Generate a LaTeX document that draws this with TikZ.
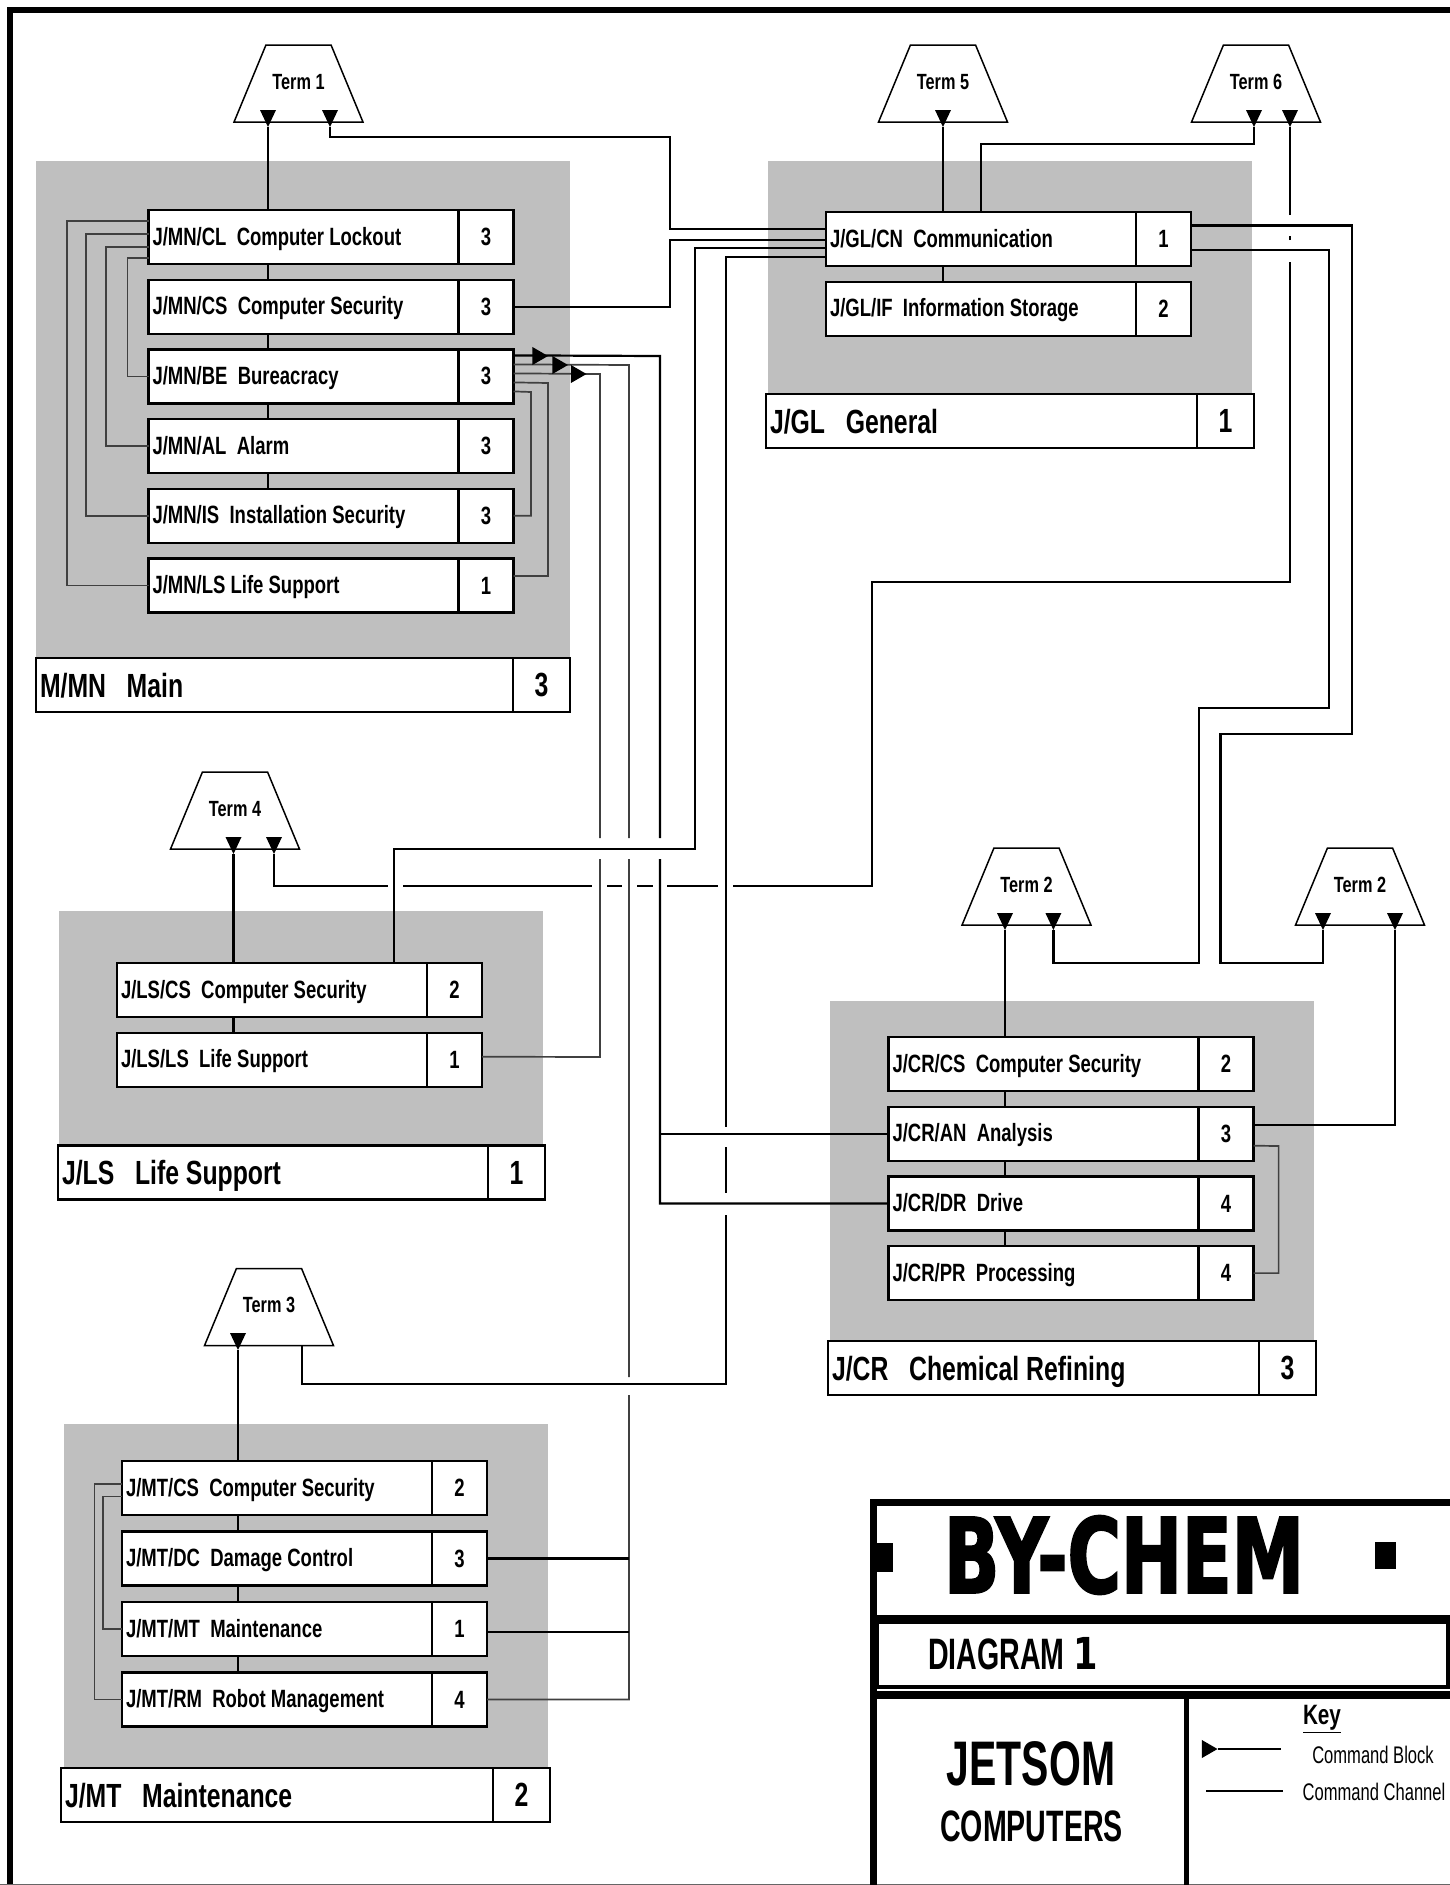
\documentclass[tikz,border=0pt]{standalone}
\usepackage{fontspec}
\setmainfont[FakeStretch=0.74]{Liberation Sans}
\newfontfamily\headfont[FakeStretch=0.65]{Liberation Sans}
\newfontfamily\keyfont[FakeStretch=0.69]{Liberation Sans}
\newfontfamily\logofont[FakeStretch=0.70,BoldFeatures={FakeBold=2}]{DejaVu Sans}
\newfontfamily\digitfont[FakeStretch=0.8]{DejaVu Sans}
\usetikzlibrary{positioning}
\usetikzlibrary{shapes.geometric}
\newcommand{\CmdRow}[4]{\node[CmdName,#2] (#1) {#3}; \node[CmdRank,right=0pt of #1] (#1r) {#4};}
\newcommand{\CmdTitle}[4]{\node[TitleName,#2] (#1) {#3}; \node[TitleRank,right=0pt of #1] (#1r) {#4};}

\begin{document}
\begin{tikzpicture}[x=1pt,y=-1pt,node distance=15.7pt]
	\tikzstyle{GroupBack} = [fill=black!25, inner sep=0pt, outer sep=0pt, anchor=north west]
	\tikzstyle{CmdName}   = [draw, fill=white, line width=2.4pt, outer sep=0pt, inner sep=4pt, anchor=west, minimum height=54pt, text width=302pt, align=flush left, text height=18pt, text depth=2pt, font=\bfseries\fontsize{25}{26}\selectfont]
	\tikzstyle{CmdRank}   = [draw, fill=white, line width=2.4pt, outer sep=0pt, inner sep=0pt, minimum height=54pt, minimum width=55pt, font=\bfseries\fontsize{25}{26}\selectfont]
	\tikzstyle{TitleName} = [CmdName, text height=24.5pt, text depth=0pt, font=\bfseries\fontsize{33.5}{36}\selectfont]
	\tikzstyle{TitleRank} = [CmdRank, minimum width=57pt, font=\bfseries\fontsize{33.5}{36}\selectfont]
	\tikzstyle{TermStyle} = [draw, fill=white, line width=1.5pt, shape=trapezium, trapezium left angle=39.4, trapezium right angle=39.4, trapezium stretches=true, minimum width=129pt, minimum height=77pt, inner sep=0pt, outer sep=0pt, text height=16pt, text depth=5pt, font=\bfseries\fontsize{22}{24}\selectfont]
	\tikzstyle{PortStyle} = [fill=black, shape=isosceles triangle, isosceles triangle stretches=true, shape border rotate=-90, minimum width=16pt, minimum height=17pt, inner sep=0pt, outer sep=0pt, anchor=apex]
	\tikzstyle{BlockMark} = [fill=black, shape=regular polygon, regular polygon sides=3, shape border rotate=-90, minimum size=21pt, inner sep=0pt, outer sep=0pt]
	\tikzstyle{ChannelStyle} = [line width=2.2pt, line join=miter]
	\tikzstyle{ThinChannel}  = [line width=1.7pt, black!75]
	\tikzstyle{SheetLine} = [line width=5pt]
	\tikzstyle{HeavyRule} = [line width=8pt]
	\tikzstyle{SheetText} = [inner sep=0pt, outer sep=0pt]

	\useasboundingbox (0,0) rectangle (1450,1885);
	\draw[line width=6pt] (9.5,1885) -- (9.5,9.5) -- (1450,9.5);
	\draw[line width=1pt, black!60] (0,1884.5) -- (1450,1884.5);

	\node[GroupBack, minimum width=534pt, minimum height=497pt] (mngroup) at (36,161) {};
	\node[GroupBack, minimum width=484pt, minimum height=233pt] (glgroup) at (768,161) {};
	\node[GroupBack, minimum width=484pt, minimum height=234pt] (lsgroup) at (59,911) {};
	\node[GroupBack, minimum width=484pt, minimum height=339pt] (crgroup) at (830,1001) {};
	\node[GroupBack, minimum width=484pt, minimum height=343pt] (mtgroup) at (64,1424) {};

	\CmdRow{mncl}{at={(148.5,237)}}{J/MN/CL\ \ Computer Lockout}{3}
	\CmdRow{mncs}{below=of mncl}{J/MN/CS\ \ Computer Security}{3}
	\CmdRow{mnbe}{below=of mncs}{J/MN/BE\ \ Bureacracy}{3}
	\CmdRow{mnal}{below=of mnbe}{J/MN/AL\ \ Alarm}{3}
	\CmdRow{mnis}{below=of mnal}{J/MN/IS\ \ Installation Security}{3}
	\CmdRow{mnls}{below=of mnis}{J/MN/LS Life Support}{1}
	\CmdTitle{mntitle}{at={(36,685)},text width=469pt}{M/MN\ \ \ Main}{3}

	\CmdRow{glcn}{at={(826,239)}}{J/GL/CN\ \ Communication}{1}
	\CmdRow{glif}{below=of glcn}{J/GL/IF\ \ Information Storage}{2}
	\CmdTitle{gltitle}{at={(766,421)},text width=423pt}{J/GL\ \ \ General}{1}

	\CmdRow{lscs}{at={(117,990)}}{J/LS/CS\ \ Computer Security}{2}
	\CmdRow{lsls}{below=of lscs}{J/LS/LS\ \ Life Support}{1}
	\CmdTitle{lstitle}{at={(58,1172.5)},text width=422pt}{J/LS\ \ \ Life Support}{1}

	\CmdRow{crcs}{at={(888.5,1064)}}{J/CR/CS\ \ Computer Security}{2}
	\CmdRow{cran}{below=of crcs}{J/CR/AN\ \ Analysis}{3}
	\CmdRow{crdr}{below=of cran}{J/CR/DR\ \ Drive}{4}
	\CmdRow{crpr}{below=of crdr}{J/CR/PR\ \ Processing}{4}
	\CmdTitle{crtitle}{at={(828,1368)},text width=423pt}{J/CR\ \ \ Chemical Refining}{3}

	\CmdRow{mtcs}{at={(122,1488)}}{J/MT/CS\ \ Computer Security}{2}
	\CmdRow{mtdc}{below=16.5pt of mtcs}{J/MT/DC\ \ Damage Control}{3}
	\CmdRow{mtmt}{below=16.5pt of mtdc}{J/MT/MT\ \ Maintenance}{1}
	\CmdRow{mtrm}{below=16.5pt of mtmt}{J/MT/RM\ \ Robot Management}{4}
	\CmdTitle{mttitle}{at={(61,1795)},text width=424pt}{J/MT\ \ \ Maintenance}{2}

	\node[TermStyle] (termone) at (298.5,83.5) {Term 1};
	\node[TermStyle] (termfive) at (943,83.5) {Term 5};
	\node[TermStyle] (termsix) at (1256,83.5) {Term 6};
	\node[TermStyle] (termfour) at (235,810.5) {Term 4};
	\node[TermStyle] (termtwoa) at (1026.5,886.5) {Term 2};
	\node[TermStyle] (termtwob) at (1360,886.5) {Term 2};
	\node[TermStyle] (termthree) at (269,1307) {Term 3};

	\node[PortStyle] (oneleft) at (268,127) {};
	\node[PortStyle] (oneright) at (330,127) {};
	\node[PortStyle] (fiveleft) at (943,127) {};
	\node[PortStyle] (sixleft) at (1254,127) {};
	\node[PortStyle] (sixright) at (1290,127) {};
	\node[PortStyle] (fourleft) at (233.5,854) {};
	\node[PortStyle] (fourright) at (274,854) {};
	\node[PortStyle] (twoaleft) at (1005,930) {};
	\node[PortStyle] (twoaright) at (1053.4,930) {};
	\node[PortStyle] (twobleft) at (1323,930) {};
	\node[PortStyle] (twobright) at (1395,930) {};
	\node[PortStyle] (threeleft) at (238,1350) {};
	\coordinate (threeright) at (302,1345);

	\coordinate (mainbus) at (660,356);
	\coordinate (maintbus) at (629,365);
	\coordinate (lifebus) at (600,374);
	\coordinate (lsdrop) at (394,849);
	\coordinate (glbend) at (981,144);

	\draw[ChannelStyle] (oneleft.apex) -- (oneleft.apex |- mncl.north);
	\foreach \a/\b in {mncl/mncs,mncs/mnbe,mnbe/mnal,mnal/mnis}
		\draw[ChannelStyle] (oneleft.apex |- \a.south) -- (oneleft.apex |- \b.north);
	\draw[ThinChannel] ([yshift=16pt]mncl.west) -- ++(-81.5,0) |- (mnls.west);
	\draw[ThinChannel] ([yshift=3pt]mncl.west) -- ++(-62.5,0) |- (mnis.west);
	\draw[ThinChannel] ([yshift=-9.7pt]mncl.west) -- ++(-42.5,0) |- (mnal.west);
	\draw[ThinChannel] ([yshift=-20.7pt]mncl.west) -- ++(-21,0) |- (mnbe.west);
	\draw[ThinChannel] ([yshift=-6pt]mnber.east) -- (548,383) |- ([yshift=9.5pt]mnlsr.east);
	\draw[ThinChannel] ([yshift=-15pt]mnber.east) -- (531,392) |- (mnisr.east);

	\draw[ChannelStyle] ([yshift=21pt]mnber.east) -- (mainbus) -- (660,838) (660,859) -- (mainbus |- crdr.west) -- (crdr.west);
	\draw[ChannelStyle] (mainbus |- cran.west) -- (cran.west);
	\draw[ThinChannel] ([yshift=12pt]mnber.east) -- (maintbus) -- (629,838) (629,859) -- (629,1377) (629,1395) -- (maintbus |- mtrm.east) -- (mtrmr.east);
	\draw[ChannelStyle] (mtdcr.east) -- (maintbus |- mtdcr.east);
	\draw[ChannelStyle] ([yshift=-3pt]mtmtr.east) -- (629,1632);
	\draw[ThinChannel] ([yshift=3pt]mnber.east) -- (lifebus) -- (600,838) (600,859) -- (600,1057) -- ([yshift=3pt]lslsr.east);
	\node[BlockMark] (markone) at (537.5,356) {};
	\node[BlockMark] (marktwo) at (557.5,365) {};
	\node[BlockMark] (markthree) at (576,374) {};

	\draw[ChannelStyle] (oneright.apex) |- (670,137) -- (670,229) -- ([yshift=10pt]glcn.west);
	\draw[ChannelStyle] (mncsr.east) -| (670,240) -- ([yshift=-1pt]glcn.west);
	\draw[ChannelStyle] ([yshift=-9pt]glcn.west) -- (695,248) -- (695,849) -- (lsdrop) -- (lsdrop |- lscs.north);
	\draw[ChannelStyle] ([yshift=-18pt]glcn.west) -- (726,257) -- (726,1127) (726,1147) -- (726,1193) (726,1215) -- (726,1384) -- (302,1384) -- (threeright);

	\draw[ChannelStyle] (fiveleft.apex) -- (fiveleft.apex |- glcn.north);
	\draw[ChannelStyle] (fiveleft.apex |- glcn.south) -- (fiveleft.apex |- glif.north);
	\draw[ChannelStyle] (sixleft.apex) |- (glbend) -- (glbend |- glcn.north);
	\draw[ChannelStyle] (fourright.apex) |- (388,886) (403,886) -- (592,886) (607,886) -- (622,886) (637,886) -- (653,886) (667,886) -- (718,886) (733,886) -- (872,886) -- (872,582) -- (1290,582) -- (1290,262) (1290,240) -- (1290,236) (1290,215) -- (sixright.apex);
	\draw[ChannelStyle] ([yshift=13.5pt]glcnr.east) -- (1352,225.5) -- (1352,734) -- (1220.5,734) -- (1220.5,963) -| (twobleft.apex);
	\draw[ChannelStyle] ([yshift=-11pt]glcnr.east) -- (1329,250) -- (1329,708) -- (1199,708) -- (1199,963) -| (twoaright.apex);

	\draw[ChannelStyle] (fourleft.apex) -- (fourleft.apex |- lscs.north);
	\draw[ChannelStyle] (fourleft.apex |- lscs.south) -- (fourleft.apex |- lsls.north);

	\draw[ChannelStyle] (twoaleft.apex) -- (twoaleft.apex |- crcs.north);
	\foreach \a/\b in {crcs/cran,cran/crdr,crdr/crpr}
		\draw[ChannelStyle] (twoaleft.apex |- \a.south) -- (twoaleft.apex |- \b.north);
	\draw[ChannelStyle] ([yshift=9pt]cranr.east) -| (twobright.apex);
	\draw[ThinChannel] ([yshift=-12pt]cranr.east) -- (1278.6,1146) |- (crprr.east);

	\draw[ChannelStyle] (threeleft.apex) -- (threeleft.apex |- mtcs.north);
	\foreach \a/\b in {mtcs/mtdc,mtdc/mtmt,mtmt/mtrm}
		\draw[ChannelStyle] (threeleft.apex |- \a.south) -- (threeleft.apex |- \b.north);
	\draw[ThinChannel] ([yshift=4pt]mtcs.west) -- (94.4,1484) |- (mtrm.west);
	\draw[ThinChannel] ([yshift=-8.5pt]mtcs.west) -- (103,1496.5) |- (mtmt.west);

	\draw[HeavyRule, line width=7pt] (873,1885) -- (873,1502) -- (1450,1502);
	\draw[HeavyRule, line width=9pt] (873,1619.5) -- (1450,1619.5);
	\draw[line width=4pt] (877,1622) rectangle (1447.7,1687);
	\draw[HeavyRule] (873,1695) -- (1450,1695);
	\draw[SheetLine] (1186.7,1699) -- (1186.7,1885);

	\node[SheetText, font=\logofont\bfseries\fontsize{104}{104}\selectfont] (logo) at (1124,1555) {BY-CHEM};
	\node[fill=black, minimum width=17pt, minimum height=29pt, inner sep=0pt] (logoleft) at (884.5,1557.5) {};
	\node[fill=black, minimum width=21pt, minimum height=27pt, inner sep=0pt] (logoright) at (1385.5,1555.5) {};
	\node[SheetText, anchor=west, font=\fontsize{44}{46}\selectfont] (diagram) at (928,1654) {{\headfont\bfseries DIAGRAM} {\digitfont\bfseries 1}};
	\node[SheetText, font=\headfont\bfseries\fontsize{63}{66}\selectfont] (jetsom) at (1031,1764) {JETSOM};
	\node[SheetText, font=\headfont\bfseries\fontsize{44}{46}\selectfont] (computers) at (1031.5,1826) {COMPUTERS};
	\node[SheetText, font=\bfseries\fontsize{28}{30}\selectfont] (keytitle) at (1322,1719) {\underline{Key}};
	\node[SheetText, font=\keyfont\fontsize{24}{26}\selectfont] (keyblock) at (1373,1755) {Command Block};
	\node[SheetText, font=\keyfont\fontsize{24}{26}\selectfont] (keychannel) at (1374,1792) {Command Channel};
	\node[BlockMark] (keymark) at (1207,1749) {};
	\coordinate (keyblockend) at (1281,1749);
	\coordinate (keychanstart) at (1206,1790.7);
	\coordinate (keychanend) at (1283,1790.7);
	\draw[ChannelStyle] (keymark) -- (keyblockend);
	\draw[ChannelStyle] (keychanstart) -- (keychanend);
\end{tikzpicture}
\end{document}
